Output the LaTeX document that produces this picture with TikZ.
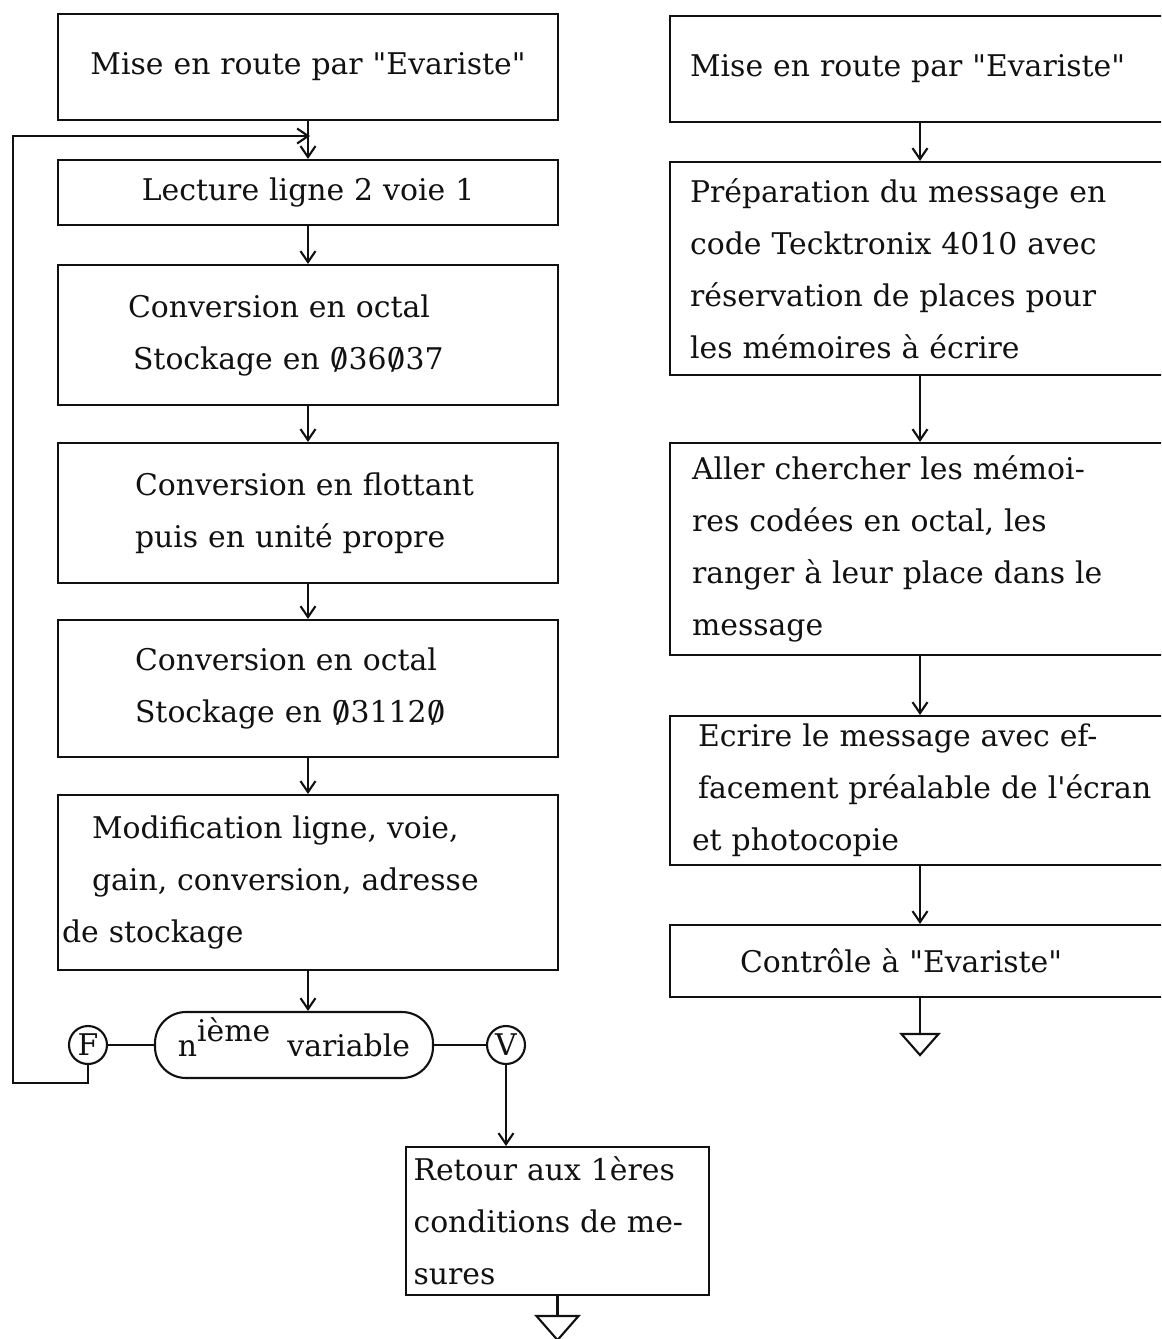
\documentclass[tikz,border=0pt]{standalone}
\usepackage{fontspec}
\setmainfont{DejaVu Serif}
\usepackage{xcolor}
\usepackage{tikz}
\usetikzlibrary{arrows.meta}
\definecolor{inkcol}{HTML}{111111}
\newcommand{\flowfont}{\fontsize{17}{29.6}\selectfont}
\newcommand{\szero}{\ooalign{0\cr\hidewidth/\hidewidth\cr}}
\newcommand{\dq}{\textquotedbl}

\begin{document}
\begin{tikzpicture}[x=0.02cm, y=-0.02cm,
    flowbox/.style={draw=inkcol, line width=1.2pt, inner ysep=0pt, align=left, font=\flowfont, text=inkcol},
    link/.style={draw=inkcol, line width=1.2pt},
    arrowlink/.style={link, -{Straight Barb[length=2.2mm, width=3mm]}},
    tag/.style={draw=inkcol, line width=1.2pt, circle, minimum size=0.76cm, inner sep=0pt, font=\flowfont, text=inkcol},
    decision/.style={draw=inkcol, line width=1.2pt, rounded corners=0.62cm, minimum width=5.56cm, minimum height=1.32cm, inner sep=0pt, font=\flowfont, text=inkcol}]
        \path[use as bounding box, fill=white] (0,0) rectangle (1161,1339);
        \clip (0,0) rectangle (1161,1339);
        % Left column
        \node[flowbox, minimum width=10cm, minimum height=2.12cm, text width=9.6cm, align=center] (start1) at (308,67) {Mise en route par \dq Evariste\dq};
        \node[flowbox, minimum width=10cm, minimum height=1.3cm, text width=9.6cm, align=center] (lect) at (308,192.5) {Lecture ligne 2 voie 1};
        \node[flowbox, minimum width=10cm, minimum height=2.8cm, inner xsep=1.4cm, text width=7.2cm] (conv1) at (308,335) {Conversion en octal\\\hspace*{0.1cm}Stockage en \szero36\szero37};
        \node[flowbox, minimum width=10cm, minimum height=2.8cm, inner xsep=1.54cm, text width=6.92cm] (flot) at (308,513) {Conversion en flottant\\puis en unité propre};
        \node[flowbox, minimum width=10cm, minimum height=2.74cm, inner xsep=1.54cm, text width=6.92cm] (conv2) at (308,688.5) {Conversion en octal\\Stockage en \szero3112\szero};
        \node[flowbox, minimum width=10cm, minimum height=3.5cm, inner xsep=0.08cm, text width=9.84cm] (modif) at (308,882.5) {\hspace*{0.6cm}Modification ligne, voie,\\\hspace*{0.6cm}gain, conversion, adresse\\de stockage};
        % Test on the variable
        \node[decision] (decide) at (294,1045) {n\smash{\raisebox{0.3cm}{ième}}\hspace{0.34cm}variable};
        \node[tag] (fcirc) at (88,1045) {F};
        \node[tag] (vcirc) at (506,1045) {V};
        \node[flowbox, minimum width=6.06cm, minimum height=2.96cm, inner xsep=0.15cm, text width=5.76cm] (retour) at (557.5,1221) {Retour aux 1ères\\\mbox{conditions de me-}\\sures};
        % Right column
        \node[flowbox, minimum width=10cm, minimum height=2.12cm, inner xsep=0.4cm, text width=9.2cm] (start2) at (920,69) {Mise en route par \dq Evariste\dq};
        \node[flowbox, minimum width=10cm, minimum height=4.26cm, inner xsep=0.4cm, text width=9.2cm] (prep) at (920,268.5) {Préparation du message en\\code Tecktronix 4010 avec\\réservation de places pour\\les mémoires à écrire};
        \node[flowbox, minimum width=10cm, minimum height=4.24cm, inner xsep=0.44cm, text width=9.12cm] (aller) at (920,549) {Aller chercher les mémoi-\\res codées en octal, les\\\mbox{ranger à leur place dans le}\\message};
        \node[flowbox, minimum width=10cm, minimum height=2.98cm, inner xsep=0.44cm, text width=9.12cm] (ecrire) at (920,790.5) {\hspace*{0.12cm}Ecrire le message avec ef-\\\hspace*{0.12cm}\mbox{facement préalable de l\textquotesingle écran}\\et photocopie};
        \node[flowbox, minimum width=10cm, minimum height=1.44cm, inner xsep=1.4cm, text width=7.2cm] (ctrl) at (920,961) {Contrôle à \dq Evariste\dq};
        % Connectors, left
        \coordinate (jointop) at (310,136);
        \coordinate (loopcorner) at (13,1083);
        \draw[arrowlink] (start1.south) -- (lect.north);
        \draw[arrowlink] (lect.south) -- (conv1.north);
        \draw[arrowlink] (conv1.south) -- (flot.north);
        \draw[arrowlink] (flot.south) -- (conv2.north);
        \draw[arrowlink] (conv2.south) -- (modif.north);
        \draw[arrowlink] (modif.south) -- (modif.south |- decide.north);
        \draw[link] (fcirc) -- (decide);
        \draw[link] (decide) -- (vcirc);
        \draw[arrowlink] (fcirc.south) |- (loopcorner) |- (jointop);
        \draw[arrowlink] (vcirc.south) -- (vcirc.south |- retour.north);
        \coordinate (endL) at ([yshift=-0.4cm]retour.south);
        \draw[link] (retour.south) -- (endL);
        \draw[link] ([xshift=-0.42cm]endL) -- ([xshift=0.42cm]endL) -- ([yshift=-0.48cm]endL) -- cycle;
        % Connectors, right
        \draw[arrowlink] (start2.south) -- (prep.north);
        \draw[arrowlink] (prep.south) -- (aller.north);
        \draw[arrowlink] (aller.south) -- (ecrire.north);
        \draw[arrowlink] (ecrire.south) -- (ctrl.north);
        \coordinate (endR) at ([yshift=-0.72cm]ctrl.south);
        \draw[link] (ctrl.south) -- (endR);
        \draw[link] ([xshift=-0.37cm]endR) -- ([xshift=0.37cm]endR) -- ([yshift=-0.42cm]endR) -- cycle;
    \end{tikzpicture}
\end{document}
